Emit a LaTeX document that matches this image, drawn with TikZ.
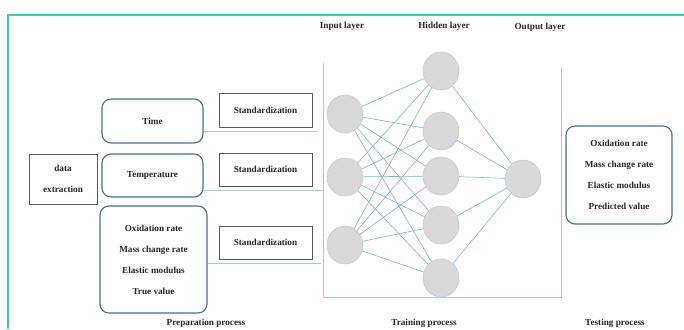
\documentclass[tikz,border=0pt]{standalone}
\usepackage{fontspec}
\setmainfont{Liberation Serif}
\usetikzlibrary{shapes.geometric,backgrounds}
\definecolor{boxblue}{RGB}{70,110,150}
\definecolor{linkblue}{RGB}{128,178,198}
\definecolor{frameblue}{RGB}{165,202,222}
\definecolor{nfill}{RGB}{217,217,217}
\definecolor{nborder}{RGB}{200,200,200}
\definecolor{tealframe}{RGB}{70,200,175}
\begin{document}
\begin{tikzpicture}[x=1pt,y=-1pt,
  lbl/.style={font=\fontsize{9.2}{10}\selectfont\bfseries, text=black!85},
  rbox/.style={draw=boxblue, line width=1.1pt, rounded corners=9pt, fill=white, inner sep=0pt,
    align=center, font=\fontsize{9.2}{21}\selectfont\bfseries, text=black!85},
  sbox/.style={draw=black!65, line width=0.8pt, inner sep=0pt, align=center,
    font=\fontsize{9.2}{21}\selectfont\bfseries, text=black!85},
  neuron/.style={ellipse, fill=nfill, draw=nborder, line width=0.6pt, minimum width=36pt, minimum height=38pt, inner sep=0pt},
  link/.style={draw=linkblue, line width=0.6pt},
  frame/.style={draw=frameblue, line width=0.9pt}]
\useasboundingbox (0,0) rectangle (684,329);
% outer teal frame
\coordinate (ftl) at (8,15);
\coordinate (ftr) at (684,15);
\coordinate (fbl) at (8,329);
\draw[tealframe, line width=1.4pt] (ftr) -- (ftl) -- (fbl);
% left boxes
\node[sbox, minimum width=68pt, minimum height=50pt] (data) at (63,179) {data\\extraction};
\node[rbox, minimum width=101pt, minimum height=44pt] (time) at (152.5,121) {Time};
\node[rbox, minimum width=101pt, minimum height=43pt] (temp) at (152.5,175.5) {Temperature};
\node[rbox, minimum width=107pt, minimum height=107pt] (oxi) at (153.5,259.5) {Oxidation rate\\Mass change rate\\Elastic modulus\\True value};
\node[sbox, minimum width=93pt, minimum height=34pt] (s1) at (265.5,110) {Standardization};
\node[sbox, minimum width=93pt, minimum height=33pt] (s2) at (265.5,169.5) {Standardization};
\node[sbox, minimum width=93pt, minimum height=33pt] (s3) at (265.5,242.5) {Standardization};
% connectors from left boxes
\coordinate (c1) at (318,131);
\coordinate (c2) at (323,190);
\coordinate (c3) at (321,263);
\draw[frame] (time.east |- c1) -- (c1);
\draw[frame] (temp.east |- c2) -- (c2);
\draw[frame] (oxi.east |- c3) -- (c3);
% training frame
\coordinate (vl1) at (323,63);
\coordinate (vl2) at (323,297);
\coordinate (vr2) at (561,297);
\coordinate (vr1) at (561,68);
\draw[frame] (vl1) -- (vl2) -- (vr2) -- (vr1);
% neurons
\node[neuron] (i1) at (345,114) {};
\node[neuron] (i2) at (345,177) {};
\node[neuron] (i3) at (345,245) {};
\node[neuron] (h1) at (441,71) {};
\node[neuron] (h2) at (441,131) {};
\node[neuron] (h3) at (441,176) {};
\node[neuron] (h4) at (441,225) {};
\node[neuron] (h5) at (441,278) {};
\node[neuron] (o1) at (523,179) {};
\begin{scope}[on background layer]
\foreach \i in {i1,i2,i3}{
  \foreach \h in {h1,h2,h3,h4,h5}{
    \draw[link] (\i.center) -- (\h.center);
  }
}
\foreach \h in {h1,h2,h3,h4,h5}{
  \draw[link] (\h.center) -- (o1.center);
}
\end{scope}
% right box
\node[rbox, minimum width=106pt, minimum height=98pt] (res) at (619,175) {Oxidation rate\\Mass change rate\\Elastic modulus\\Predicted value};
% labels
\node[lbl] (lin) at (342,26) {Input layer};
\node[lbl] (lhid) at (444,26) {Hidden layer};
\node[lbl] (lout) at (540,27) {Output layer};
\node[lbl] (lprep) at (206,323) {Preparation process};
\node[lbl] (ltrain) at (424,323) {Training process};
\node[lbl] (ltest) at (615,323) {Testing process};
\end{tikzpicture}
\end{document}
